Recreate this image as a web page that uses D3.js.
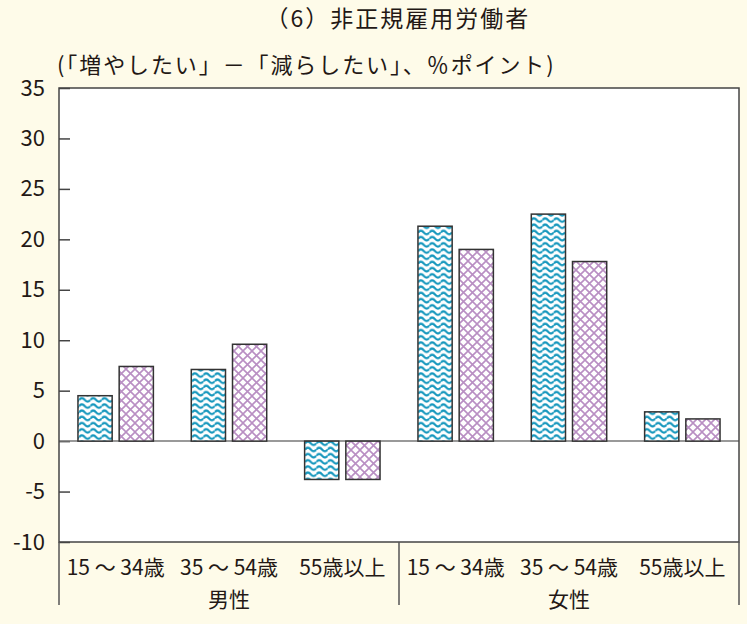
<!DOCTYPE html>
<html>
<meta charset="utf-8">
<script src="https://cdn.jsdelivr.net/npm/d3@7/dist/d3.min.js"></script>
<style>
body{
  margin: 0;
  background-color: #fefbe9;
}
text{
  font-family: "Noto Sans CJK JP", "Noto Sans", sans-serif;
  fill: #231815;
}
.frame{
  stroke: #444;
  stroke-width: 1.5;
  fill: none;
}
.bar{
  stroke: #333;
  stroke-width: 1.5;
}
</style>
<body>
<div id="chart"></div>
<script>
// data
var groups = ["男性", "女性"];
var ageLabels = ["15 ～ 34歳", "35 ～ 54歳", "55歳以上"];
var categories = ["男性15～34歳", "男性35～54歳", "男性55歳以上", "女性15～34歳", "女性35～54歳", "女性55歳以上"];
var seriesA = [4.5, 7.1, -3.8, 21.3, 22.5, 2.9];   // 水色（波）
var seriesB = [7.4, 9.6, -3.8, 19.0, 17.8, 2.2];   // 紫（格子）
var yTicks = [-10, -5, 0, 5, 10, 15, 20, 25, 30, 35];

var width = 747, height = 624;
var plotL = 59, plotR = 739, plotT = 88, plotB = 542;

var svg = d3.select("#chart").append("svg")
  .attr("width", width).attr("height", height);

// patterns
var defs = svg.append("defs");
var wave = defs.append("pattern")
  .attr("id", "wave").attr("patternUnits", "userSpaceOnUse")
  .attr("width", 11.3).attr("height", 6.2);
wave.append("rect").attr("width", 11.3).attr("height", 6.2).attr("fill", "white");
wave.append("path")
  .attr("d", "M0,3.1 Q2.8,-0.4 5.65,3.1 T11.3,3.1")
  .attr("fill", "none").attr("stroke", "#1597bd").attr("stroke-width", 2.2);

var cross = defs.append("pattern")
  .attr("id", "cross").attr("patternUnits", "userSpaceOnUse")
  .attr("width", 9).attr("height", 9);
cross.append("rect").attr("width", 9).attr("height", 9).attr("fill", "white");
cross.append("path")
  .attr("d", "M0,0 L9,9 M9,0 L0,9")
  .attr("fill", "none").attr("stroke", "#b98fc3").attr("stroke-width", 1.6);

// titles
svg.append("text").attr("x", 398).attr("y", 27)
  .attr("text-anchor", "middle").style("font-size", "23px")
  .style("letter-spacing", "2px")
  .text("（6）非正規雇用労働者");
svg.append("text").attr("x", 57).attr("y", 73)
  .style("font-size", "22px")
  .style("letter-spacing", "1.9px")
  .text("(「増やしたい」－「減らしたい」、％ポイント)");

var y = d3.scaleLinear().domain([-10, 35]).range([plotB, plotT]);
var x = d3.scaleBand().domain(categories).range([plotL, plotR]).paddingInner(0).paddingOuter(0);
var inner = d3.scaleBand().domain(["a", "b"]).range([0, x.bandwidth()]).paddingInner(0.17).paddingOuter(0.46);

// plot area
svg.append("rect").attr("x", plotL).attr("y", plotT)
  .attr("width", plotR - plotL).attr("height", plotB - plotT)
  .attr("fill", "white");

// y axis
var yAxis = d3.axisLeft(y).tickValues(yTicks).tickSize(-11).tickPadding(14)
  .tickFormat(function(d){ return String(d); });
var yG = svg.append("g").attr("transform", "translate(" + plotL + ",0)").call(yAxis);
yG.select(".domain").remove();
yG.selectAll(".tick line").attr("stroke", "#444").attr("stroke-width", 1.5);
yG.selectAll(".tick text").style("font-size", "22px").attr("fill", "#231815");

// zero line
svg.append("line").attr("x1", plotL).attr("x2", plotR)
  .attr("y1", y(0)).attr("y2", y(0))
  .attr("stroke", "#777").attr("stroke-width", 1.5);

// bars
function barY(v){ return v >= 0 ? y(v) : y(0); }
function barH(v){ return Math.abs(y(v) - y(0)); }

svg.selectAll(".barA").data(seriesA).enter().append("rect")
  .attr("class", "bar")
  .attr("x", function(d, i){ return x(categories[i]) + inner("a"); })
  .attr("y", barY).attr("height", barH)
  .attr("width", inner.bandwidth())
  .attr("fill", "url(#wave)");

svg.selectAll(".barB").data(seriesB).enter().append("rect")
  .attr("class", "bar")
  .attr("x", function(d, i){ return x(categories[i]) + inner("b"); })
  .attr("y", barY).attr("height", barH)
  .attr("width", inner.bandwidth())
  .attr("fill", "url(#cross)");

// frame
svg.append("rect").attr("class", "frame")
  .attr("x", plotL).attr("y", plotT)
  .attr("width", plotR - plotL).attr("height", plotB - plotT);

// group separators below plot
var sep = [plotL, x(categories[3]), plotR];
svg.selectAll(".sep").data(sep).enter().append("line")
  .attr("x1", function(d){ return d; }).attr("x2", function(d){ return d; })
  .attr("y1", plotB).attr("y2", 605)
  .attr("stroke", "#555").attr("stroke-width", 1.5);

// category labels
svg.selectAll(".cat").data(categories).enter().append("text")
  .attr("x", function(d){ return x(d) + x.bandwidth() / 2; })
  .attr("y", 575)
  .attr("text-anchor", "middle").style("font-size", "21px")
  .text(function(d, i){ return ageLabels[i % 3]; });

svg.selectAll(".grp").data(groups).enter().append("text")
  .attr("x", function(d, i){ return x(categories[i * 3 + 1]) + x.bandwidth() / 2; })
  .attr("y", 607)
  .attr("text-anchor", "middle").style("font-size", "21px")
  .text(function(d){ return d; });
</script>
</body>
</html>
